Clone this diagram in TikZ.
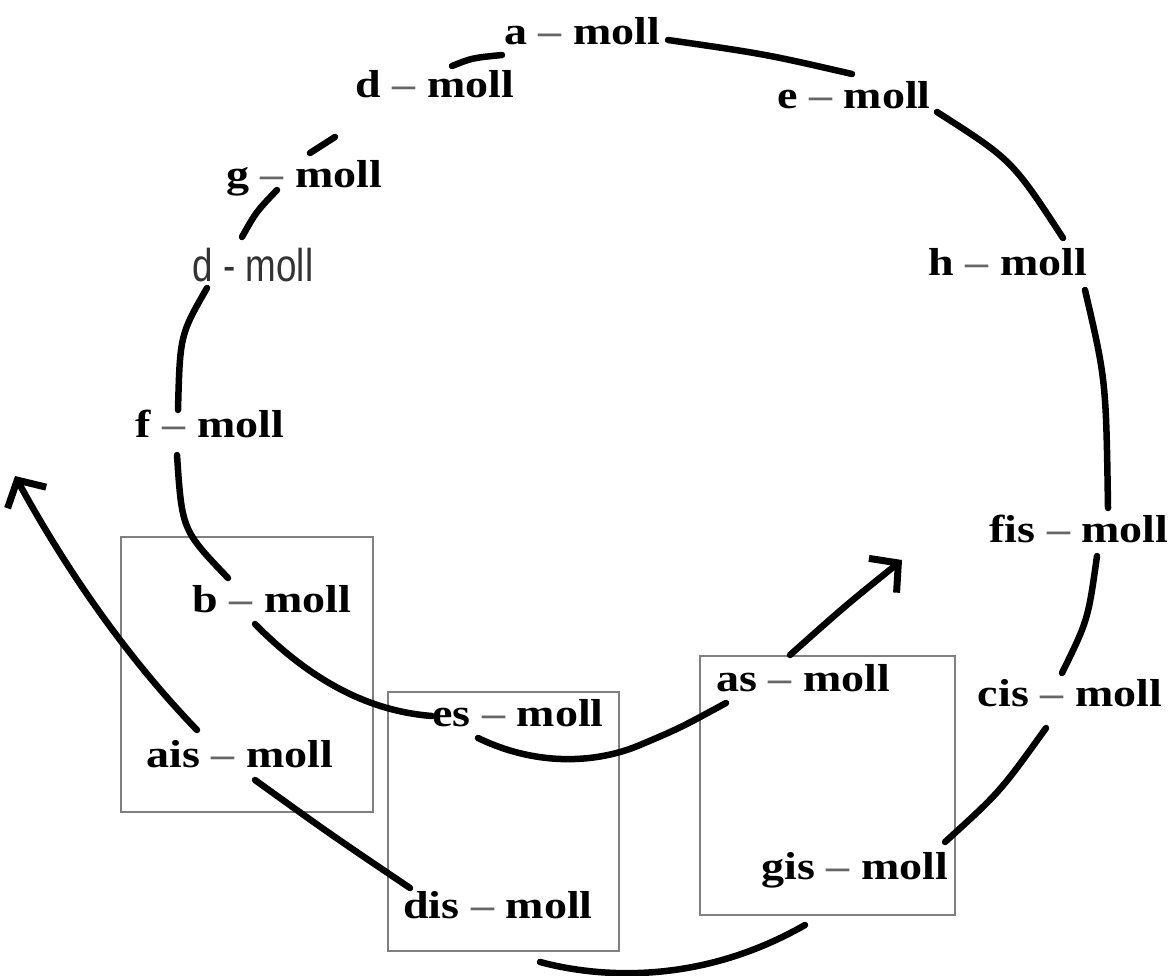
\documentclass[tikz,border=0pt]{standalone}
\usepackage{fontspec}
\setmainfont{Liberation Serif}
\newfontfamily\thinsans{Liberation Sans}
\usetikzlibrary{arrows.meta}
\newcommand{\mollkey}[1]{\scalebox{1.18}[1]{\bfseries #1 \textcolor{black!60}{\textendash} moll}}
\tikzset{
  key/.style={inner sep=0pt, anchor=base, font=\fontsize{39}{39}\selectfont},
  link/.style={line width=6.5pt, line cap=round},
  arr/.style={link, -{Straight Barb[length=20pt,width=44pt,line width=7pt]}},
  frame/.style={draw=black!50, line width=2.5pt}
}
\begin{document}
\begin{tikzpicture}[x=1pt,y=-1pt]
\path[use as bounding box] (0,0) rectangle (1174,976);
% frames
\draw[frame] (121,537) rectangle (373,812);
\draw[frame] (388,692) rectangle (619,951);
\draw[frame] (700,656) rectangle (955,915);
% keys
\node[key] (a)   at (582,45)  {\mollkey{a}};
\node[key] (dt)  at (435,98)  {\mollkey{d}};
\node[key] (e)   at (854,109) {\mollkey{e}};
\node[key] (g)   at (304,188) {\mollkey{g}};
\node[key, font=\fontsize{46}{46}\selectfont, text=black!80] (ds) at (253,281) {\scalebox{0.8}[1]{\thinsans d - moll}};
\node[key] (h)   at (1008,275) {\mollkey{h}};
\node[key] (f)   at (210,437) {\mollkey{f}};
\node[key] (fis) at (1079,542) {\mollkey{fis}};
\node[key] (b)   at (272,612) {\mollkey{b}};
\node[key] (cis) at (1070,706) {\mollkey{cis}};
\node[key] (as)  at (803,691) {\mollkey{as}};
\node[key] (es)  at (518,726) {\mollkey{es}};
\node[key] (ais) at (240,767) {\mollkey{ais}};
\node[key] (dis) at (498,918) {\mollkey{dis}};
\node[key] (gis) at (855,879) {\mollkey{gis}};
% connector end points
\coordinate (p1a) at (452,66);   \coordinate (p1b) at (502,55);
\coordinate (p2a) at (668,40);   \coordinate (p2b) at (852,74);
\coordinate (p3a) at (937,112);  \coordinate (p3b) at (1063,238);
\coordinate (p4a) at (1085,290); \coordinate (p4b) at (1108,508);
\coordinate (p5a) at (1097,556); \coordinate (p5b) at (1062,673);
\coordinate (p6a) at (1046,728); \coordinate (p6b) at (945,842);
\coordinate (p7a) at (805,925);  \coordinate (p7b) at (540,962);
\coordinate (p8a) at (410,888);  \coordinate (p8b) at (255,780);
\coordinate (p9a) at (197,730);  \coordinate (tipL) at (15,476);
\coordinate (p10a) at (177,455); \coordinate (p10b) at (228,578);
\coordinate (p11a) at (255,624); \coordinate (p11b) at (432,716);
\coordinate (p12a) at (478,738); \coordinate (p12m) at (640,745); \coordinate (p12b) at (726,703);
\coordinate (p13a) at (790,655); \coordinate (tipR) at (902,560);
\coordinate (p14a) at (242,237); \coordinate (p14b) at (277,190);
\coordinate (p15a) at (310,153); \coordinate (p15b) at (335,137);
\coordinate (p16a) at (207,288); \coordinate (p16b) at (178,410);
% connectors
\draw[link] (p1a) .. controls (472,58) .. (p1b);
\draw[link] (p2a) .. controls (765,54) .. (p2b);
\draw[link] (p3a) .. controls (1012,160) .. (p3b);
\draw[link] (p4a) .. controls (1106,380) .. (p4b);
\draw[link] (p5a) .. controls (1088,620) .. (p5b);
\draw[link] (p6a) .. controls (1000,792) .. (p6b);
\draw[link] (p7a) .. controls (700,985) and (600,978) .. (p7b);
\draw[link] (p8a) .. controls (330,834) .. (p8b);
\draw[arr]  (p9a) .. controls (110,640) and (50,540) .. (tipL);
\draw[link] (p10a) .. controls (182,530) .. (p10b);
\draw[link] (p11a) .. controls (320,690) and (380,712) .. (p11b);
\draw[link] (p12a) .. controls (540,768) and (600,762) .. (p12m) .. controls (680,728) .. (p12b);
\draw[arr]  (p13a) .. controls (845,606) .. (tipR);
\draw[link] (p14a) .. controls (256,212) .. (p14b);
\draw[link] (p15a) -- (p15b);
\draw[link] (p16a) .. controls (180,335) .. (p16b);
\end{tikzpicture}
\end{document}
